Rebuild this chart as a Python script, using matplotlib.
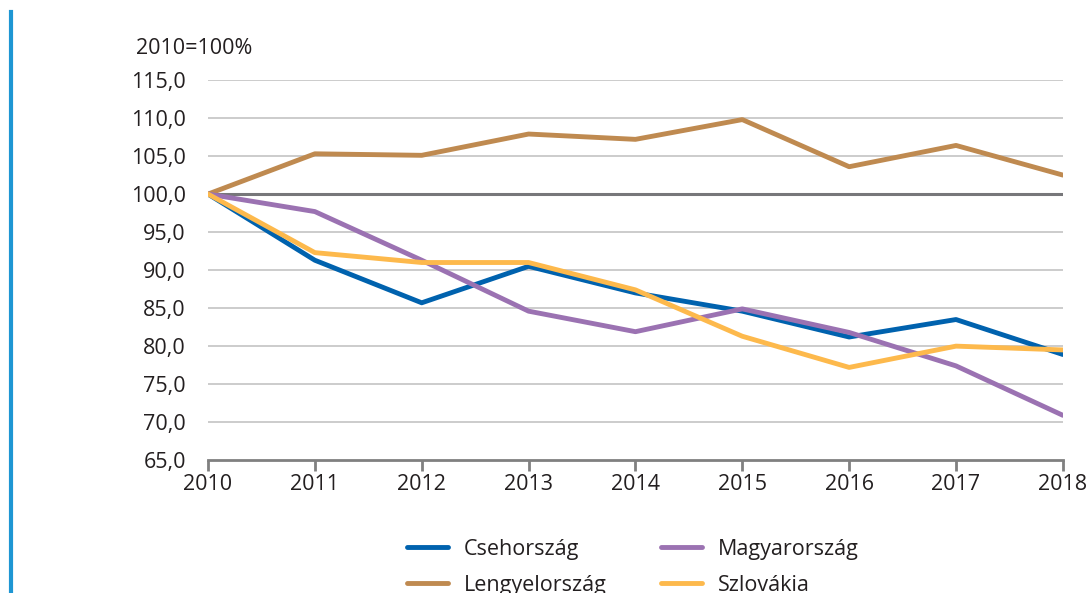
import matplotlib
matplotlib.use('Agg')
import matplotlib.pyplot as plt
from matplotlib.ticker import FuncFormatter
from matplotlib.lines import Line2D

years = [2010, 2011, 2012, 2013, 2014, 2015, 2016, 2017, 2018]
cseh = [100.0, 91.3, 85.7, 90.5, 87.0, 84.6, 81.2, 83.5, 78.9]
lengyel = [100.0, 105.3, 105.1, 107.9, 107.2, 109.8, 103.6, 106.4, 102.5]
magyar = [100.0, 97.7, 91.3, 84.6, 81.9, 84.9, 81.8, 77.4, 70.9]
szlovak = [100.0, 92.3, 91.0, 91.0, 87.4, 81.3, 77.2, 80.0, 79.5]

plt.rcParams['font.family'] = ['Open Sans', 'DejaVu Sans']
fs = 15.5
txt = '#231f20'

fig = plt.figure(figsize=(10.89, 5.93), dpi=100)
ax = fig.add_axes([0.191, 0.224, 0.785, 0.641])

for v in range(70, 120, 5):
    if v == 100:
        continue
    ax.axhline(v, color='#c4c4c4', lw=1.2, zorder=1)
ax.axhline(100, color='#77777a', lw=2.2, zorder=2)

lw = 3.5
ax.plot(years, cseh, color='#0062ae', lw=lw, label='Csehország', zorder=3, solid_capstyle='round')
ax.plot(years, lengyel, color='#bf8a50', lw=lw, label='Lengyelország', zorder=3, solid_capstyle='round')
ax.plot(years, magyar, color='#9b72b2', lw=lw, label='Magyarország', zorder=4, solid_capstyle='round')
ax.plot(years, szlovak, color='#fdb94c', lw=lw, label='Szlovákia', zorder=5, solid_capstyle='round')

ax.set_xlim(2010, 2018)
ax.set_ylim(65, 115)
ax.set_xticks(years)
ax.set_yticks(range(65, 120, 5))
ax.yaxis.set_major_formatter(FuncFormatter(lambda v, p: f'{v:.1f}'.replace('.', ',')))

for s in ['top', 'right', 'left']:
    ax.spines[s].set_visible(False)
ax.spines['bottom'].set_color('#808080')
ax.spines['bottom'].set_linewidth(2)
ax.spines['bottom'].set_zorder(6)
ax.tick_params(axis='y', length=0, pad=16, labelsize=fs, labelcolor=txt)
ax.tick_params(axis='x', direction='out', length=8, width=2, color='#808080',
               pad=2, labelsize=fs, labelcolor=txt)

fig.text(0.125, 0.9, '2010=100%', fontsize=fs, color=txt, va='bottom', ha='left')

# blue side bar
fig.add_artist(Line2D([0.0105, 0.0105], [0.0, 0.98], color='#1e96d3', lw=3,
                      transform=fig.transFigure))

fig.legend(loc='upper left', bbox_to_anchor=(0.364, 0.11), ncol=2, frameon=False,
           fontsize=fs, handlelength=1.9, handletextpad=0.75, columnspacing=2.5,
           labelspacing=0.7, borderpad=0, labelcolor=txt)

fig.savefig('out.png', dpi=100)
